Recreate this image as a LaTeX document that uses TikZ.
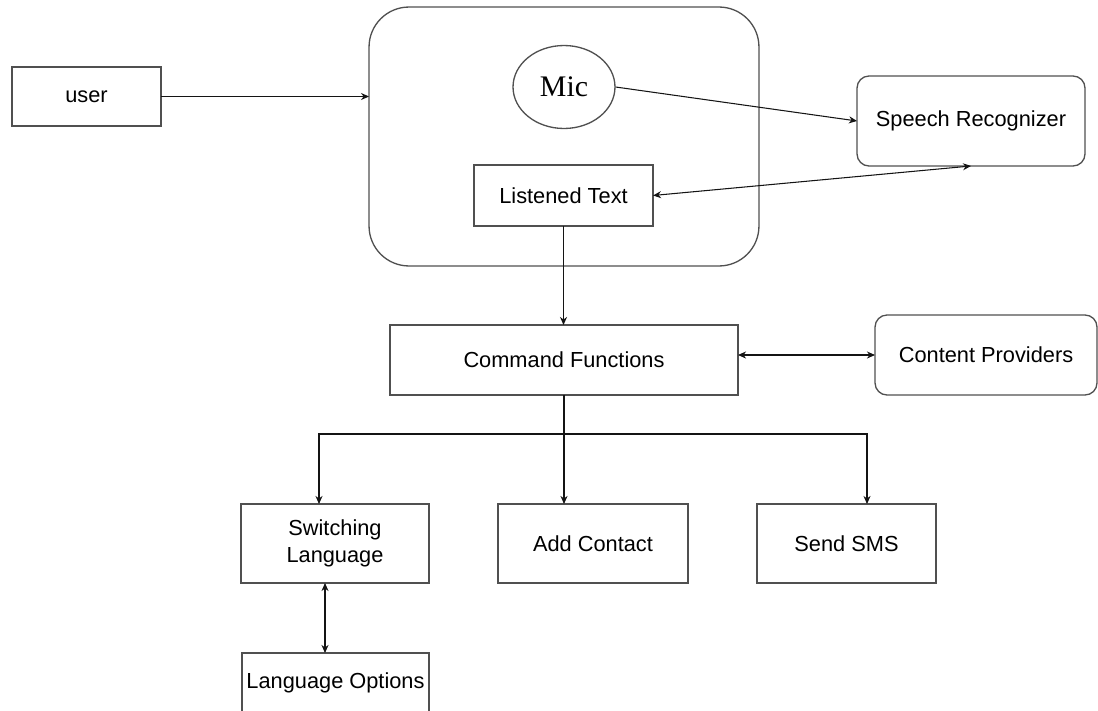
\documentclass[tikz,border=0pt]{standalone}
\usepackage{fontspec}
\setmainfont{Liberation Sans}
\newfontfamily\micfont{Liberation Serif}
\usetikzlibrary{arrows.meta,shapes.geometric}

\definecolor{edge}{RGB}{80,80,80}
\definecolor{wire}{RGB}{20,20,20}

\tikzset{
  box/.style={draw=edge, line width=0.75pt, rectangle, inner sep=0pt, outer sep=0pt,
    align=center, font=\fontsize{12.4}{15.3}\selectfont},
  softbox/.style={box, rounded corners=0.24cm},
  arr/.style={draw=wire, line width=0.6pt, -{Stealth[length=4.6pt,width=4pt]}},
  arrs/.style={draw=wire, line width=0.6pt, {Stealth[length=4.6pt,width=4pt]}-{Stealth[length=4.6pt,width=4pt]}}
}

\begin{document}
\begin{tikzpicture}[x=0.02cm, y=-0.02cm]
  \useasboundingbox (0,0) rectangle (1098,710);
  \clip (0,0) rectangle (1098,710);

  % application frame holding the microphone and the listened text
  \node[box, rounded corners=0.8cm, minimum width=7.8cm, minimum height=5.18cm] (app) at (564,136.5) {};
  \node[draw=edge, line width=0.75pt, ellipse, inner sep=0pt, minimum width=2.04cm, minimum height=1.66cm,
        font=\micfont\fontsize{17}{20}\selectfont] (mic) at (564,87) {Mic};
  \node[box, minimum width=3.58cm, minimum height=1.22cm] (lt) at (563.5,195.5) {Listened Text};

  % outer components
  \node[box, minimum width=2.98cm, minimum height=1.18cm] (user) at (86.5,96.5) {user};
  \node[softbox, minimum width=4.56cm, minimum height=1.8cm] (sr) at (971,121) {Speech Recognizer};
  \node[box, minimum width=6.96cm, minimum height=1.4cm] (cf) at (564,360) {Command Functions};
  \node[softbox, minimum width=4.44cm, minimum height=1.6cm] (cp) at (986,355) {Content Providers};

  % commands
  \node[box, minimum width=3.76cm, minimum height=1.58cm] (sl) at (335,543.5) {Switching\\Language};
  \node[box, minimum width=3.8cm, minimum height=1.58cm] (ac) at (593,543.5) {Add Contact};
  \node[box, minimum width=3.58cm, minimum height=1.58cm] (ss) at (846.5,543.5) {Send SMS};
  \node[box, minimum width=3.74cm, minimum height=1.2cm] (lo) at (335.5,683) {Language Options};

  % branch points
  \coordinate (split) at (564,434);
  \coordinate (bl) at (319,434);
  \coordinate (br) at (867,434);
  \coordinate (lk) at (325,0);

  % connectors
  \draw[arr] (user.east) -- (user.east -| app.west);
  \draw[arr] (mic.east) -- (sr.west);
  \draw[arrs] (lt.east) -- (sr.south);
  \draw[arr] (lt.south) -- (lt.south |- cf.north);
  \draw[arrs] (cf.east |- cp.west) -- (cp.west);
  \draw[arr] (cf.south) -- (cf.south |- ac.north);
  \draw[arr] (split) -- (bl) -- (bl |- sl.north);
  \draw[arr] (split) -- (br) -- (br |- ss.north);
  \draw[arrs] (sl.south -| lk) -- (lo.north -| lk);
\end{tikzpicture}
\end{document}
